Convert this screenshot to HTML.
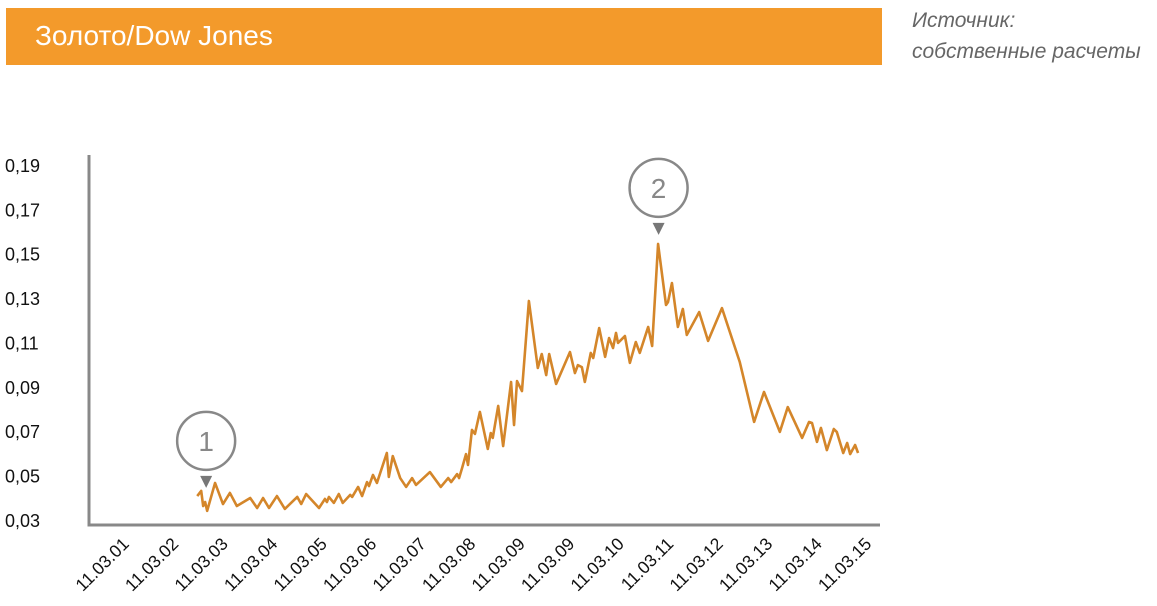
<!DOCTYPE html>
<html><head><meta charset="utf-8"><style>
body{margin:0;width:1157px;height:606px;background:#fff;overflow:hidden;font-family:"Liberation Sans",sans-serif;}
#hdr{position:absolute;left:6px;top:8px;width:876px;height:57px;background:#F39A2B;}
#hdr span{position:absolute;left:29px;top:12px;color:#fff;font-size:28px;}
#src{position:absolute;left:912px;top:5px;color:#666;font-style:italic;font-size:21px;line-height:31px;}
svg{position:absolute;left:0;top:0;}
</style></head><body>
<div id="hdr"><span>Золото/Dow Jones</span></div>
<div id="src">Источник:<br>собственные расчеты</div>
<svg id="c" width="1157" height="606"></svg>
<script>
const xLabels=["11.03.01","11.03.02","11.03.03","11.03.04","11.03.05","11.03.06","11.03.07","11.03.08","11.03.09","11.03.09","11.03.10","11.03.11","11.03.12","11.03.13","11.03.14","11.03.15"];
const yTicks=[0.03,0.05,0.07,0.09,0.11,0.13,0.15,0.17,0.19];
const times=[1.52,1.60,1.64,1.68,1.72,1.88,2.04,2.18,2.32,2.59,2.73,2.85,2.97,3.13,3.29,3.54,3.62,3.72,3.98,4.10,4.14,4.18,4.28,4.38,4.46,4.61,4.65,4.77,4.85,4.95,4.99,5.07,5.15,5.35,5.39,5.47,5.62,5.74,5.86,5.94,6.22,6.44,6.59,6.65,6.77,6.81,6.87,6.95,6.99,7.07,7.13,7.23,7.39,7.45,7.49,7.60,7.70,7.86,7.92,7.98,8.08,8.22,8.40,8.48,8.57,8.63,8.77,9.05,9.15,9.21,9.29,9.35,9.47,9.52,9.64,9.76,9.84,9.92,9.98,10.02,10.16,10.26,10.38,10.46,10.63,10.71,10.83,10.99,11.03,11.11,11.23,11.33,11.41,11.66,11.84,12.12,12.48,12.77,12.97,13.29,13.45,13.74,13.88,13.94,14.04,14.12,14.24,14.38,14.44,14.57,14.65,14.71,14.81,14.87];
const ratio=[.0408,.0431,.0363,.0381,.0341,.0467,.0372,.0422,.0363,.0399,.0354,.0399,.0354,.0408,.0350,.0404,.0372,.0417,.0354,.0395,.0381,.0404,.0377,.0417,.0377,.0413,.0404,.0449,.0408,.0471,.0453,.0503,.0467,.0602,.0494,.0588,.0489,.0449,.0489,.0458,.0516,.0449,.0489,.0471,.0507,.0489,.0534,.0597,.0548,.0706,.0688,.0787,.0620,.0692,.0670,.0814,.0633,.0922,.0728,.0926,.0881,.1287,.0985,.1048,.0953,.1048,.0913,.1057,.0962,.0998,.0989,.0922,.1053,.1030,.1165,.1035,.1120,.1075,.1143,.1098,.1129,.1008,.1102,.1053,.1170,.1084,.1544,.1269,.1282,.1368,.1170,.1251,.1134,.1237,.1107,.1255,.1012,.0742,.0877,.0697,.0809,.0670,.0742,.0737,.0652,.0715,.0615,.0710,.0697,.0602,.0647,.0597,.0638,.0602];
const callouts=[{label:"1",t:1.70,v:0.0445},{label:"2",t:10.84,v:0.1585}];
const NS="http://www.w3.org/2000/svg",svg=document.getElementById('c');
const X=t=>122+49.5*t, Y=v=>520-(v-0.03)*2219;
function mk(tag,a,p){const e=document.createElementNS(NS,tag);for(const k in a)e.setAttribute(k,a[k]);(p||svg).appendChild(e);return e;}
const ax=mk('path',{d:'M89 155V525H880',fill:'none',stroke:'#888','stroke-width':3});


yTicks.forEach(v=>{const t=mk('text',{x:5,y:Y(v)+7,'font-size':18,fill:'#111'});t.textContent=v.toFixed(2).replace('.',',');

});
xLabels.forEach((l,i)=>{const x=X(i)+8,y=545;const t=mk('text',{x:x,y:y,'font-size':17.5,fill:'#111','text-anchor':'end',transform:`rotate(-45 ${x} ${y})`});t.textContent=l;

});
const line=mk('polyline',{points:times.map((t,i)=>X(t)+','+Y(ratio[i])).join(' '),fill:'none',stroke:'#D4862A','stroke-width':2.6,'stroke-linejoin':'round'});


callouts.forEach(c=>{const x=X(c.t),y=Y(c.v);
const g=mk('g',{});


mk('circle',{cx:x,cy:y-47,r:29,fill:'#fff',stroke:'#888','stroke-width':2.5},g);
mk('path',{d:`M${x-6} ${y-12}L${x+6} ${y-12}L${x} ${y}Z`,fill:'#777'},g);
const t=mk('text',{x:x,y:y-37,'font-size':28,fill:'#888','text-anchor':'middle'},g);t.textContent=c.label;});
</script>
</body></html>
